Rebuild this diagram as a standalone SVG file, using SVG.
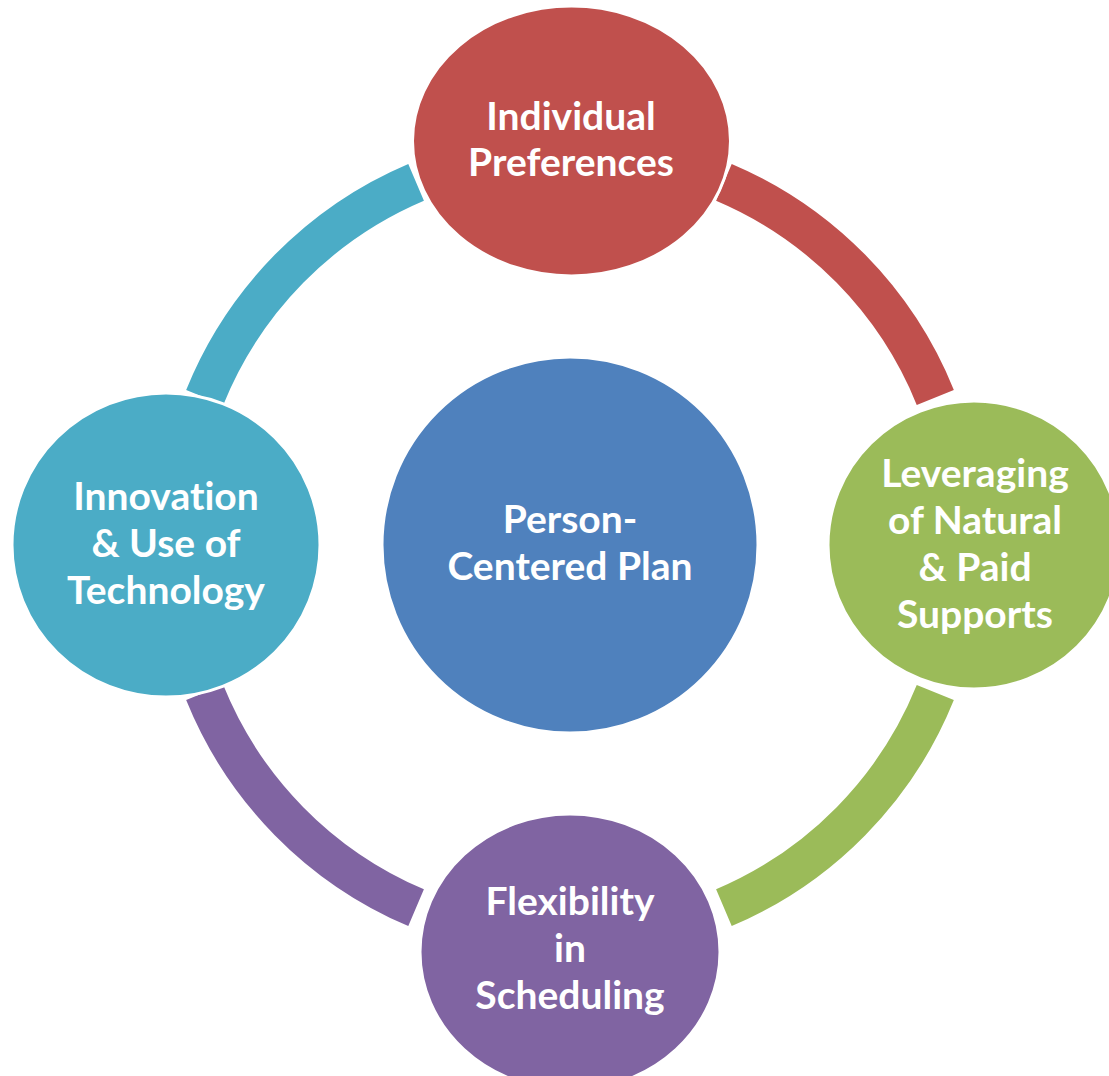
<svg xmlns="http://www.w3.org/2000/svg" width="1109" height="1076" viewBox="0 0 1109 1076">
<style>
.arc{fill:none;stroke-width:40;stroke-linecap:butt}
.node{stroke:#FFFFFF;stroke-width:3}
.lbl{font-family:Lato,"Open Sans","Liberation Sans",sans-serif;font-weight:bold;font-size:39px;fill:#FFFFFF;text-anchor:middle;font-variant-ligatures:none}
</style>
<rect width="1109" height="1076" fill="#FFFFFF"/>
<g id="connectors">
<path class="arc" stroke="#4BACC6" d="M204.7,397.4 A394,394 0 0 1 416.1,182.3"/>
<path class="arc" stroke="#C0504D" d="M723.9,182.3 A394,394 0 0 1 935.3,397.4"/>
<path class="arc" stroke="#9BBB59" d="M935.3,692.6 A394,394 0 0 1 723.9,907.7"/>
<path class="arc" stroke="#8064A2" d="M416.1,907.7 A394,394 0 0 1 204.7,692.6"/>
</g>
<g id="center">
<circle class="node" cx="570" cy="545" r="188" fill="#4F81BD"/>
<text class="lbl" x="570" y="533">Person-</text>
<text class="lbl" x="570" y="580">Centered Plan</text>
</g>
<g id="top">
<ellipse class="node" cx="571.5" cy="141" rx="159" ry="135" fill="#C0504D"/>
<text class="lbl" x="571" y="130">Individual</text>
<text class="lbl" x="571" y="176">Preferences</text>
</g>
<g id="right">
<ellipse class="node" cx="974" cy="545" rx="146" ry="144" fill="#9BBB59"/>
<text class="lbl" x="975" y="487">Leveraging</text>
<text class="lbl" x="975" y="534">of Natural</text>
<text class="lbl" x="975" y="581">&amp; Paid</text>
<text class="lbl" x="975" y="628">Supports</text>
</g>
<g id="bottom">
<ellipse class="node" cx="570" cy="952" rx="150" ry="138" fill="#8064A2"/>
<text class="lbl" x="570" y="915">Flexibility</text>
<text class="lbl" x="570" y="962">in</text>
<text class="lbl" x="570" y="1009">Scheduling</text>
</g>
<g id="left">
<ellipse class="node" cx="166" cy="545" rx="154" ry="152" fill="#4BACC6"/>
<text class="lbl" x="166" y="510">Innovation</text>
<text class="lbl" x="166" y="557">&amp; Use of</text>
<text class="lbl" x="166" y="604">Technology</text>
</g>
</svg>
